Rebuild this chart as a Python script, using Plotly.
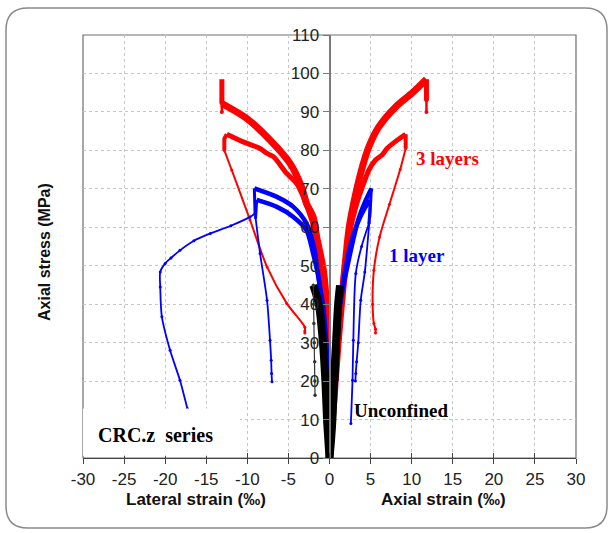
import plotly.graph_objects as go

# ---------------- data (strain in per mille, stress in MPa) ----------------
# 3 layers - specimen A (peak ~98.5)
red_a_axial_x = [0, 0.35, 0.7, 1.05, 1.45, 1.9, 2.4, 3.2, 4.0, 4.8, 6.0, 8.05, 10.1, 11.8]
red_a_axial_y = [0, 10, 20, 30, 40, 50, 60, 68.8, 75.7, 81, 86.1, 91.3, 95, 98.5]
red_a_axial_drop_x = [11.8, 11.8]
red_a_axial_drop_y = [98.5, 93]
red_a_axial_tail_x = [11.8, 11.8]
red_a_axial_tail_y = [93, 90]
red_a_lat_x = [0, -0.1, -0.15, -0.25, -0.34, -0.75, -1.56, -2.0, -2.8, -3.4, -4.8, -7.24, -10.07, -13.1]
red_a_lat_y = [0, 10, 20, 30, 38.4, 48.8, 57.5, 62.7, 66.2, 70.5, 76.6, 82.7, 88.3, 92.2]
red_a_lat_drop_x = [-13.1, -13.1]
red_a_lat_drop_y = [92.2, 98.5]
red_a_lat_tail_x = [-13.1, -13.1]
red_a_lat_tail_y = [92.2, 90]

# 3 layers - specimen B (peak ~84)
red_b_axial_x = [0, 0.3, 0.6, 1.0, 1.4, 1.8, 2.4, 3.2, 4.0, 4.8, 5.6, 6.4, 7.0, 8.2, 9.27]
red_b_axial_y = [0, 10, 20, 30, 40, 50, 58, 65.3, 70.5, 74.9, 77.5, 78.8, 80.5, 82.6, 84.2]
red_b_axial_drop_x = [9.27, 9.27]
red_b_axial_drop_y = [84.2, 80.5]
red_b_axial_tail_x = [9.27, 8.6, 7.3, 6.1, 5.4, 5.25, 5.4, 5.6, 5.6]
red_b_axial_tail_y = [80.5, 75, 66, 57.5, 48.8, 40, 35, 33.5, 32.5]
red_b_lat_x = [0, -0.1, -0.2, -0.3, -0.5, -0.9, -1.6, -2.5, -3.2, -4.0, -5.2, -6.8, -7.6, -8.45, -10.5, -12.5]
red_b_lat_y = [0, 10, 20, 30, 40, 50, 58, 64, 68, 71.4, 74, 78.3, 79.2, 80.5, 82.2, 84.2]
red_b_lat_drop_x = [-12.5, -12.8, -12.8]
red_b_lat_drop_y = [84.2, 83, 80]
red_b_lat_tail_x = [-12.8, -11.9, -9.67, -7.6, -5.2, -3.0, -3.0, -3.0]
red_b_lat_tail_y = [80, 74.9, 61.9, 49.7, 40.2, 34, 33, 32.5]

# 1 layer - specimen C (peak ~70)
blue_c_axial_x = [0, 0.3, 0.6, 0.95, 1.3, 1.7, 2.2, 2.7, 3.5, 4.3, 5.1]
blue_c_axial_y = [0, 10, 20, 30, 40, 45, 50, 55, 62, 66.5, 70.1]
blue_c_axial_drop_x = [5.1, 5.0, 4.9]
blue_c_axial_drop_y = [70.1, 66, 62.7]
blue_c_axial_tail_x = [4.9, 4.3, 3.8, 3.5, 3.3, 3.2, 3.15]
blue_c_axial_tail_y = [62.7, 48.4, 41, 30, 25, 22, 20]
blue_c_lat_x = [0, -0.1, -0.2, -0.4, -0.8, -1.16, -1.56, -1.9, -2.8, -4.4, -6.4, -9.15]
blue_c_lat_y = [0, 10, 20, 30, 40, 44.5, 50.6, 55, 61, 65.3, 67.9, 70.1]
blue_c_lat_drop_x = [-9.15, -9.1, -9.06]
blue_c_lat_drop_y = [70.1, 66, 63.6]
blue_c_lat_tail_x = [-9.06, -9.67, -12.0, -14.5, -16.5, -18.2, -19.3, -20.0, -20.6, -20.6, -20.4, -19.4, -18.2, -17.3, -16.8]
blue_c_lat_tail_y = [63.6, 62.7, 60.4, 58.4, 56.5, 54, 52, 50.6, 48.4, 44.5, 36.7, 28, 20.2, 12.9, 9]

# 1 layer - specimen D (peak ~67)
blue_d_axial_x = [0, 0.3, 0.6, 0.9, 1.25, 1.6, 2.5, 3.4, 4.3, 5.0]
blue_d_axial_y = [0, 10, 20, 30, 40, 45, 55, 61, 65, 67]
blue_d_axial_drop_x = [5.0, 4.9, 4.8]
blue_d_axial_drop_y = [67, 63, 61]
blue_d_axial_tail_x = [4.8, 3.9, 3.2, 2.9, 2.8, 2.6]
blue_d_axial_tail_y = [61, 55, 48, 30.6, 20.2, 9]
blue_d_lat_x = [0, -0.1, -0.2, -0.4, -0.9, -1.36, -2.0, -2.8, -4.4, -6.4, -8.86]
blue_d_lat_y = [0, 10, 20, 30, 40, 47.1, 53.2, 59.2, 62.7, 65.3, 67.1]
blue_d_lat_drop_x = [-8.86, -8.9, -9.0]
blue_d_lat_drop_y = [67.1, 64, 62.5]
blue_d_lat_tail_x = [-9.0, -8.45, -7.6, -7.24, -7.1, -7.05, -7.0]
blue_d_lat_tail_y = [62.5, 53.2, 41, 30.6, 25.4, 22, 19.8]

# Unconfined
black_axial_x = [0, 0.2, 0.35, 0.55, 0.8, 1.05, 1.28]
black_axial_y = [0, 5, 10, 20, 30, 40, 44.9]
black_axial_tail_x = [1.28, 1.1, 0.95, 0.85]
black_axial_tail_y = [44.9, 35, 25, 20]
black_lat_x = [0, -0.15, -0.3, -0.5, -0.8, -1.3, -1.97]
black_lat_y = [0, 5, 10, 20, 30, 40, 44.9]
black_lat_tail_x = [-1.97, -1.93, -1.9, -1.85, -1.8, -1.78, -1.76]
black_lat_tail_y = [44.9, 40, 35, 30, 25, 20, 16.3]

x_ticks = list(range(-30, 31, 5))
y_ticks = list(range(0, 111, 10))

RED = "#ff0000"
BLUE = "#0000ff"

fig = go.Figure()


def add(x, y, color, width, marker_size=0, smooth=True):
    mode = "lines+markers" if marker_size else "lines"
    line = dict(color=color, width=width)
    if smooth:
        line.update(shape="spline", smoothing=0.8)
    fig.add_trace(go.Scatter(
        x=x, y=y, mode=mode, line=line,
        marker=dict(size=marker_size, color=color, symbol="circle"),
        showlegend=False, hoverinfo="skip"))


# red (3 layers)
add(red_a_axial_x, red_a_axial_y, RED, 7)
add(red_a_axial_drop_x, red_a_axial_drop_y, RED, 5, smooth=False)
add(red_a_axial_tail_x, red_a_axial_tail_y, RED, 2.5, 4, smooth=False)
add(red_a_lat_x, red_a_lat_y, RED, 7)
add(red_a_lat_drop_x, red_a_lat_drop_y, RED, 5, smooth=False)
add(red_a_lat_tail_x, red_a_lat_tail_y, RED, 2.5, 4, smooth=False)
add(red_b_axial_x, red_b_axial_y, RED, 5)
add(red_b_axial_drop_x, red_b_axial_drop_y, RED, 4, smooth=False)
add(red_b_axial_tail_x, red_b_axial_tail_y, RED, 2, 3)
add(red_b_lat_x, red_b_lat_y, RED, 5)
add(red_b_lat_drop_x, red_b_lat_drop_y, RED, 4, smooth=False)
add(red_b_lat_tail_x, red_b_lat_tail_y, RED, 2, 3)

# blue (1 layer)
add(blue_c_axial_x, blue_c_axial_y, BLUE, 4.5)
add(blue_c_axial_drop_x, blue_c_axial_drop_y, BLUE, 3, smooth=False)
add(blue_c_axial_tail_x, blue_c_axial_tail_y, BLUE, 1.8, 3)
add(blue_c_lat_x, blue_c_lat_y, BLUE, 4.5)
add(blue_c_lat_drop_x, blue_c_lat_drop_y, BLUE, 3, smooth=False)
add(blue_c_lat_tail_x, blue_c_lat_tail_y, BLUE, 1.8, 3)
add(blue_d_axial_x, blue_d_axial_y, BLUE, 4.5)
add(blue_d_axial_drop_x, blue_d_axial_drop_y, BLUE, 3, smooth=False)
add(blue_d_axial_tail_x, blue_d_axial_tail_y, BLUE, 1.8, 3)
add(blue_d_lat_x, blue_d_lat_y, BLUE, 4.5)
add(blue_d_lat_drop_x, blue_d_lat_drop_y, BLUE, 3, smooth=False)
add(blue_d_lat_tail_x, blue_d_lat_tail_y, BLUE, 1.8, 3)

# black (unconfined)
add(black_axial_x, black_axial_y, "#000000", 8)
add(black_axial_tail_x, black_axial_tail_y, "#000000", 4, smooth=False)
add(black_lat_x, black_lat_y, "#000000", 8)
add(black_lat_tail_x, black_lat_tail_y, "#333333", 1.2, 3.5, smooth=False)

# invisible trace for the secondary (inside-tick) x axis
fig.add_trace(go.Scatter(x=[0], y=[0], xaxis="x2", mode="markers",
                         marker=dict(opacity=0), showlegend=False, hoverinfo="skip"))

# ---------- layout geometry ----------
W, H = 610, 533
L, R, T, B = 83, 576, 35, 458
pw, ph = R - L, B - T


def px(xp):
    return (xp - L) / pw


def py(yp):
    return (B - yp) / ph


# rounded outer frame
oL, oR, oT, oB, rad = 6, 607, 8, 528, 22
rx, ry = rad / pw, rad / ph
xl, xr, yt, yb = px(oL), px(oR), py(oT), py(oB)
path = (f"M {xl+rx},{yt} L {xr-rx},{yt} Q {xr},{yt} {xr},{yt-ry} "
        f"L {xr},{yb+ry} Q {xr},{yb} {xr-rx},{yb} L {xl+rx},{yb} "
        f"Q {xl},{yb} {xl},{yb+ry} L {xl},{yt-ry} Q {xl},{yt} {xl+rx},{yt} Z")

shapes = [
    dict(type="path", path=path, xref="paper", yref="paper",
         line=dict(color="#8a8a8a", width=1.5), layer="below"),
    dict(type="rect", xref="paper", yref="paper", x0=0, x1=1, y0=0, y1=1,
         line=dict(color="#6e6e6e", width=1.2), layer="below"),
    # white box behind "CRC.z series"
    dict(type="rect", xref="x", yref="y", x0=-30.2, x1=-10.9, y0=0.6, y1=12.9,
         fillcolor="white", line=dict(width=0), layer="above"),
]

serif = "Liberation Serif, Times New Roman, serif"
sans = "Liberation Sans, Arial, sans-serif"

annotations = [
    dict(x=14.3, y=77.8, text="<b>3 layers</b>", showarrow=False,
         font=dict(family=serif, size=19, color=RED)),
    dict(x=10.6, y=52.7, text="<b>1 layer</b>", showarrow=False,
         font=dict(family=serif, size=19, color=BLUE)),
    dict(x=8.7, y=12.4, text="<b>Unconfined</b>", showarrow=False,
         font=dict(family=serif, size=19, color="#000000")),
    dict(x=-21.2, y=5.9, text="<b>CRC.z  series</b>", showarrow=False,
         font=dict(family=serif, size=20, color="#000000")),
    dict(x=px(196), y=py(500), xref="paper", yref="paper",
         xanchor="center", yanchor="middle",
         text="<b>Lateral strain (‰)</b>", showarrow=False,
         font=dict(family=sans, size=17, color="#111111")),
    dict(x=px(443), y=py(500), xref="paper", yref="paper",
         xanchor="center", yanchor="middle",
         text="<b>Axial strain (‰)</b>", showarrow=False,
         font=dict(family=sans, size=17, color="#111111")),
    dict(x=px(45), y=py(252), xref="paper", yref="paper", textangle=-90,
         xanchor="center", yanchor="middle",
         text="<b>Axial stress (MPa)</b>", showarrow=False,
         font=dict(family=sans, size=16, color="#111111")),
]

fig.update_layout(
    width=W, height=H,
    margin=dict(l=L, r=W - R, t=T, b=H - B, pad=0),
    paper_bgcolor="white", plot_bgcolor="white",
    shapes=shapes, annotations=annotations,
    showlegend=False,
    xaxis=dict(range=[-30, 30], tickvals=x_ticks, ticktext=[str(v) for v in x_ticks],
               showgrid=True, gridcolor="#c6c6c6", griddash="dot", gridwidth=1,
               zeroline=False, showline=True, linecolor="#444444", linewidth=1.2,
               ticks="outside", ticklen=5, tickcolor="#444444", tickwidth=1.2,
               tickfont=dict(family=sans, size=17, color="#222222"),
               fixedrange=True),
    xaxis2=dict(range=[-30, 30], tickvals=x_ticks, overlaying="x", anchor="y",
                side="bottom", showgrid=False, zeroline=False, showline=False,
                ticks="inside", ticklen=5, tickcolor="#444444", tickwidth=1.2,
                showticklabels=False),
    yaxis=dict(range=[0, 110], tickvals=y_ticks, ticktext=[str(v) for v in y_ticks],
               showgrid=True, gridcolor="#c6c6c6", griddash="dot", gridwidth=1,
               zeroline=False, showline=True, linecolor="#7a7a7a", linewidth=2,
               anchor="free", position=0.5,
               ticks="outside", ticklen=6, tickcolor="#7a7a7a", tickwidth=1.2,
               tickfont=dict(family=sans, size=17, color="#222222"),
               fixedrange=True),
)

fig.write_html("out.html", post_script="document.body.style.margin='0px';",
               config={"displayModeBar": False})
